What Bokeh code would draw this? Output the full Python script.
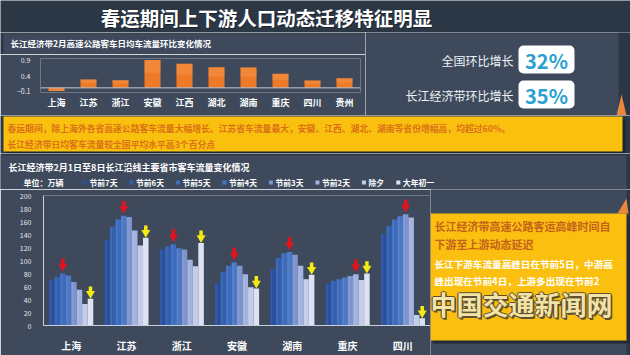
from bokeh.plotting import figure
from bokeh.models import Range1d, FactorRange, FixedTicker, Span, BoxAnnotation
from bokeh.layouts import row, column
from bokeh.transform import dodge
from bokeh.core.properties import value
from bokeh.embed import file_html
from bokeh.resources import INLINE

FONT = "Noto Sans CJK SC"
DARK = "#2c3746"
PANEL = "#3e4a5c"
GOLD = "#f9c10e"

# ---------------- data ----------------
title_text = "春运期间上下游人口动态迁移特征明显"

top_subtitle = "长江经济带2月高速公路客车日均车流量环比变化情况"
top_cats = ["上海", "江苏", "浙江", "安徽", "江西", "湖北", "湖南", "重庆", "四川", "贵州"]
top_vals = [-0.10, 0.27, 0.25, 0.90, 0.78, 0.67, 0.66, 0.46, 0.24, 0.31]
top_ticks = [-0.1, 0.4, 0.9]

kpi_labels = ["全国环比增长", "长江经济带环比增长"]
kpi_values = ["32%", "35%"]

banner_lines = [
    "春运期间，除上海外各省高速公路客车流量大幅增长。江苏省车流量最大，安徽、江西、湖北、湖南等省份增幅高，均超过60%。",
    "长江经济带日均客车流量较全国平均水平高3个百分点",
]

bot_subtitle = "长江经济带2月1日至8日长江沿线主要省市客车流量变化情况"
unit_label = "单位：万辆"
provinces = ["上海", "江苏", "浙江", "安徽", "湖南", "重庆", "四川"]
days = ["节前7天", "节前6天", "节前5天", "节前4天", "节前3天", "节前2天", "除夕", "大年初一"]
d7 = [70, 132, 117, 65, 87, 65, 141]
d6 = [75, 152, 122, 82, 104, 69, 153]
d5 = [80, 163, 125, 92, 111, 71, 163]
d4 = [77, 169, 119, 97, 113, 74, 168]
d3 = [67, 167, 117, 92, 109, 76, 171]
d2 = [55, 146, 101, 79, 92, 79, 166]
chuxi = [33, 123, 91, 59, 71, 70, 16]
chuyi = [41, 135, 127, 57, 78, 80, 11]
series = [d7, d6, d5, d4, d3, d2, chuxi, chuyi]
bot_ticks = list(range(0, 201, 20))
day_colors = ["#2b4f9e", "#3260b0", "#3d6cbf", "#4a78c6", "#7d94cf", "#a3b3df", "#c3cdea", "#dce2f3"]

note_title = ["长江经济带高速公路客运高峰时间自", "下游至上游动态延迟"]
note_body = ["长江下游车流量高峰日在节前5日，中游高", "峰出现在节前4日，上游多出现在节前2"]
watermark = "中国交通新闻网"


# ---------------- helpers ----------------
def canvas(w, h, bg=DARK):
    p = figure(width=w, height=h, x_range=Range1d(0, w), y_range=Range1d(h, 0),
               min_border=0, toolbar_location=None, output_backend="svg",
               x_axis_location=None, y_axis_location=None, frame_align=False,
               outline_line_color=None, background_fill_color=bg, border_fill_color=bg)
    p.grid.visible = False
    return p


def txt(p, x, y, t, size, color, bold=False, align="left", alpha=1.0):
    p.text(x=[x], y=[y], text=[t], text_font=value(FONT), text_font_size=size,
           text_color=color, text_alpha=alpha, text_font_style="bold" if bold else "normal",
           text_align=align, text_baseline="middle")


def box(p, l, r, t, b, color):
    p.quad(left=[l], right=[r], top=[t], bottom=[b], fill_color=color, line_color=None)


# ---------------- title ----------------
tcv = canvas(630, 32)
txt(tcv, 267, 18, title_text, "19.5px", "#1a222c", bold=True, align="center")
txt(tcv, 266, 17, title_text, "19.5px", "#ffffff", bold=True, align="center")

# ---------------- top chart ----------------
th = canvas(365, 22)
box(th, 3, 365, 1, 22, PANEL)
txt(th, 10, 10, top_subtitle, "8.5px", "#ffffff", bold=True)

tc = figure(width=365, height=61, x_range=FactorRange(*top_cats), y_range=Range1d(-0.15, 0.95),
            min_border_left=40, min_border_right=5, min_border_top=4, min_border_bottom=23,
            toolbar_location=None, output_backend="svg", outline_line_color=None, frame_align=False,
            background_fill_color=PANEL, border_fill_color=PANEL)
tc.vbar(x=top_cats, top=top_vals, width=0.5, fill_color="#ee7a28", line_color=None)
tc.vbar(x=top_cats, top=top_vals, width=0.5, fill_color="#f6a056", fill_alpha=0.35,
        line_color=None, bottom=[v * 0.55 for v in top_vals])
tc.add_layout(Span(location=0, dimension="width", line_color="#c3cbd6", line_width=1))
tc.grid.visible = False
tc.yaxis.ticker = FixedTicker(ticks=top_ticks)
tc.yaxis.axis_line_color = None
tc.yaxis.major_tick_line_color = None
tc.yaxis.minor_tick_line_color = None
tc.yaxis.major_label_text_font_size = "7px"
tc.yaxis.major_label_text_color = "#e3e8ef"
tc.yaxis.major_label_text_font = FONT
tc.yaxis.major_label_standoff = 4
tc.xaxis.axis_line_color = None
tc.xaxis.major_tick_line_color = None
tc.xaxis.major_label_text_font_size = "9px"
tc.xaxis.major_label_text_font_style = "bold"
tc.xaxis.major_label_text_color = "#ffffff"
tc.xaxis.major_label_text_font = FONT
tc.xaxis.major_label_standoff = -3
tc.xaxis.major_label_overrides = {c: " ".join(c) for c in top_cats}

# ---------------- KPI ----------------
kc = canvas(265, 83, bg=PANEL)
box(kc, 253, 265, 0, 83, DARK)
box(kc, 0, 265, 0, 1, DARK)
kc.patch(x=[251, 261, 256], y=[83, 83, 62], fill_color="#e8883a", line_color=None)
for i, (lab, val) in enumerate(zip(kpi_labels, kpi_values)):
    yc = 27 + i * 35
    txt(kc, 148, yc + 1, lab, "12px", "#eef2f6", align="right")
    kc.add_layout(BoxAnnotation(left=153, right=209, top=yc - 14, bottom=yc + 14,
                                fill_color="#ffffff", fill_alpha=1, line_color=None,
                                border_radius=5, level="underlay"))
    txt(kc, 181, yc + 1, val, "20px", "#2a9fd2", bold=True, align="center")

# ---------------- banner ----------------
bn = canvas(630, 38)
box(bn, 5, 625, 4, 38, "#1c242e")
box(bn, 3, 622, 1, 36, GOLD)
for i, line in enumerate(banner_lines):
    txt(bn, 7, 13 + i * 16, line, "8.8px", "#dc7016", bold=True)

# ---------------- bottom chart header (full width) ----------------
bh = canvas(630, 36)
box(bh, 0, 626, 2, 36, PANEL)
txt(bh, 8, 14, bot_subtitle, "9px", "#ffffff", bold=True)
txt(bh, 23, 29, unit_label, "8px", "#ffffff", bold=True)
lx = 89
for name, col in zip(days, day_colors):
    bh.rect(x=[lx - 4.5], y=[29], width=4, height=4, fill_color=col, line_color=None)
    txt(bh, lx, 29, name, "7.8px", "#ffffff", bold=True)
    w = sum(0.55 if ch.isdigit() else 1.0 for ch in name) * 7.8
    lx += w + 18.8

bc = figure(width=430, height=166, x_range=FactorRange(*provinces), y_range=Range1d(0, 200),
            min_border_left=43, min_border_right=0, min_border_top=6, min_border_bottom=24,
            toolbar_location=None, output_backend="svg", outline_line_color=None, frame_align=False,
            background_fill_color=PANEL, border_fill_color=PANEL)
bc.grid.visible = False
data = {"prov": provinces}
for k, s in enumerate(series):
    data["s%d" % k] = s
for k in range(8):
    off = -0.35 + 0.1 * k
    bc.vbar(x=dodge("prov", off, range=bc.x_range), top="s%d" % k, width=0.1,
            source=data, fill_color=day_colors[k], line_color=None)
    bc.vbar(x=dodge("prov", off - 0.025, range=bc.x_range), top="s%d" % k, width=0.03,
            source=data, fill_color="#ffffff", fill_alpha=0.08, line_color=None)

# arrows: red over the pre-holiday peak, yellow over 大年初一
rx, ry, yx, yy = [], [], [], []
for j in range(len(provinces)):
    vals = [s[j] for s in series]
    k = max(range(7), key=lambda i: vals[i])
    rx.append(j + 0.5 - 0.35 + 0.1 * k)
    ry.append(vals[k])
    yx.append(j + 0.5 + 0.35)
    yy.append(vals[7])
bc.segment(x0=rx, x1=rx, y0=[v + 14 for v in ry], y1=[v + 23 for v in ry],
           line_color="#e0141e", line_width=3.5)
bc.scatter(x=rx, y=[v + 11 for v in ry], marker="inverted_triangle", size=9,
           fill_color="#e0141e", line_color=None)
bc.segment(x0=yx, x1=yx, y0=[v + 11 for v in yy], y1=[v + 19 for v in yy],
           line_color="#f5ea12", line_width=3.5)
bc.scatter(x=yx, y=[v + 8 for v in yy], marker="inverted_triangle", size=9,
           fill_color="#f5ea12", line_color=None)

bc.yaxis.ticker = FixedTicker(ticks=bot_ticks)
bc.yaxis.axis_line_color = "#c8d0dc"
bc.yaxis.major_tick_line_color = None
bc.yaxis.minor_tick_line_color = None
bc.yaxis.major_label_text_font_size = "7px"
bc.yaxis.major_label_text_color = "#e3e8ef"
bc.yaxis.major_label_text_font = FONT
bc.yaxis.major_label_standoff = 6
bc.xaxis.axis_line_color = "#c8d0dc"
bc.xaxis.major_tick_line_color = None
bc.xaxis.major_label_text_font_size = "10px"
bc.xaxis.major_label_text_font_style = "bold"
bc.xaxis.major_label_text_color = "#ffffff"
bc.xaxis.major_label_text_font = FONT
bc.xaxis.major_label_standoff = 6

# ---------------- note box (page y 189..355) ----------------
nc = canvas(200, 166)
box(nc, 0, 196, 0, 166, PANEL)
box(nc, 2, 199, 27, 154, "#222a35")
box(nc, 0, 196, 24, 151, "#fbbf10")
nc.patch(x=[187, 198, 196], y=[24, 24, 9], fill_color="#e8883a", line_color=None)
for i, line in enumerate(note_title):
    txt(nc, 4, 36 + i * 18, line, "11px", "#c4621c", bold=True)
for i, line in enumerate(note_body):
    txt(nc, 4, 74 + i * 17, line, "9.6px", "#ffffff", bold=True)
for dx, dy in [(-1.2, 0), (1.2, 0), (0, -1.2), (0, 1.2), (1.5, 1.5)]:
    txt(nc, 0 + dx, 114 + dy, watermark, "26px", "#5e5030", bold=True)
txt(nc, 0, 114, watermark, "26px", "#f3e3a6", bold=True)

layout = column(
    tcv,
    row(column(th, tc), kc),
    bn,
    bh,
    row(bc, nc),
)

open("out.html", "w").write(file_html(layout, INLINE))
